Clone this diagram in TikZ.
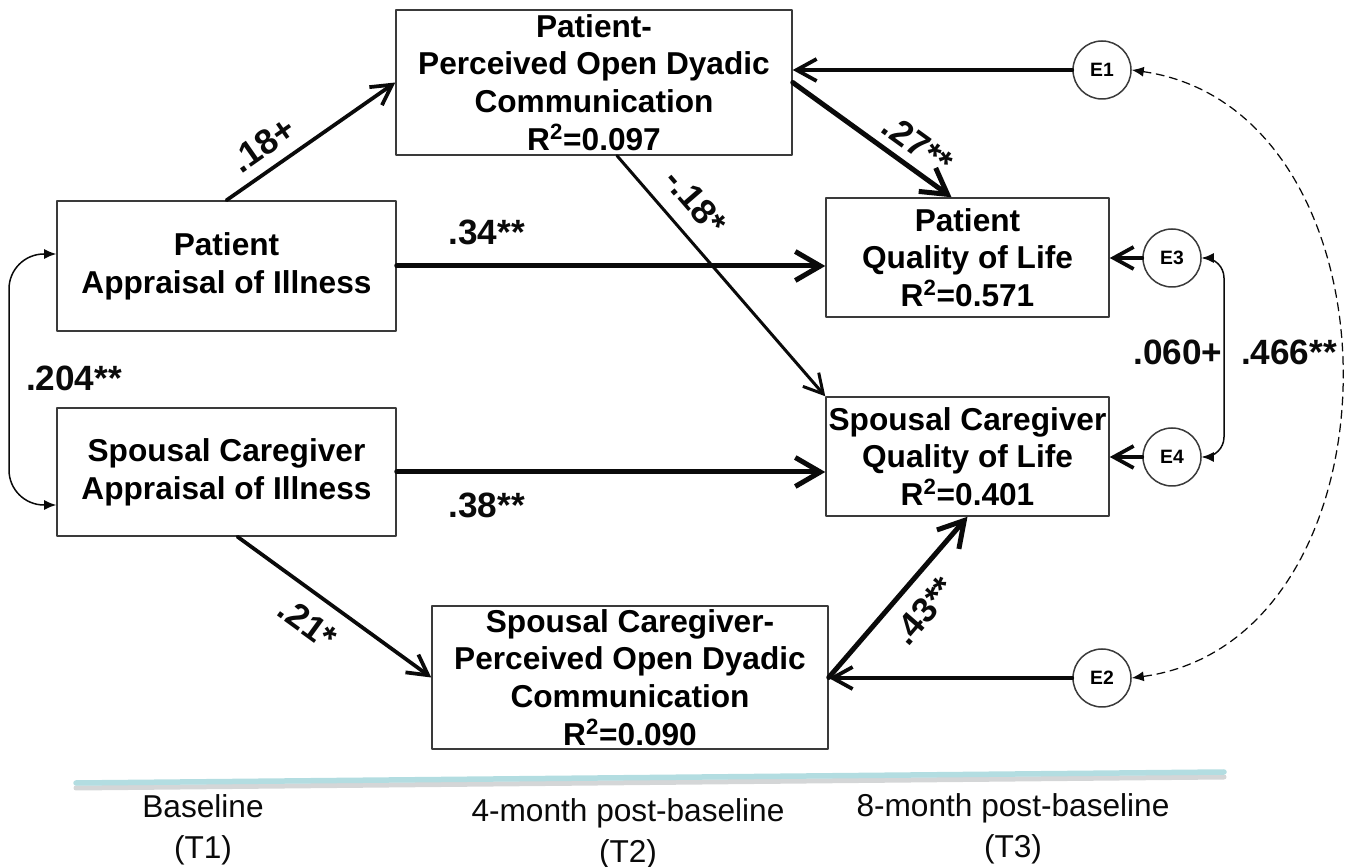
\documentclass[tikz,border=0pt]{standalone}
\usepackage{fontspec}
\setmainfont{Liberation Sans}
\usetikzlibrary{arrows.meta,calc}
\definecolor{ink}{HTML}{0A0A0A}
\definecolor{frame}{HTML}{3A3A3A}
\definecolor{timeline}{HTML}{B3DDE1}
\definecolor{dropshade}{HTML}{D4D6D7}
\newcommand{\boxfont}{\bfseries\fontsize{18}{21.5}\selectfont}
\newcommand{\coeffont}{\bfseries\fontsize{20}{24}\selectfont}
\newcommand{\wavefont}{\fontsize{18}{23.2}\selectfont}
\tikzset{
  varbox/.style={draw=frame,line width=0.3mm,inner sep=0pt,align=center,font=\boxfont},
  errnode/.style={circle,draw=frame,line width=0.3mm,minimum size=11.6mm,inner sep=0pt,font=\bfseries\fontsize{11}{13}\selectfont},
  heavy/.style={draw=ink,line width=1mm,-{Straight Barb[length=5mm,width=5.8mm]}},
  medium/.style={draw=ink,line width=0.75mm,-{Straight Barb[length=4mm,width=4.4mm]}},
  light/.style={draw=ink,line width=0.6mm,-{Straight Barb[length=3.8mm,width=4.2mm]}},
  corr/.style={draw=ink,line width=0.3mm,{Latex[length=2.4mm,width=2mm]}-{Latex[length=2.4mm,width=2mm]}},
  corrdash/.style={corr,line width=0.25mm,dash pattern=on 1.6mm off 1.1mm},
  coef/.style={font=\coeffont,text=ink,inner sep=2pt},
  wave/.style={font=\wavefont,align=center,text=ink,inner sep=0pt}
}

\begin{document}
\begin{tikzpicture}[x=0.2mm,y=0.2mm,line cap=round,line join=round]
  \path[use as bounding box] (0,0) rectangle (1351,867);

  \node[varbox,minimum width=67.8mm,minimum height=26mm] (pa) at (226.5,601) {Patient\\Appraisal of Illness};
  \node[varbox,minimum width=67.8mm,minimum height=25.6mm] (sa) at (226.5,395) {Spousal Caregiver\\Appraisal of Illness};
  \node[varbox,minimum width=79.2mm,minimum height=29mm] (pc) at (594,784.5) {Patient-\\Perceived Open Dyadic\\Communication\\R\textsuperscript{2}=0.097};
  \node[varbox,minimum width=79.2mm,minimum height=28.6mm] (sc) at (630,189.5) {Spousal Caregiver-\\Perceived Open Dyadic\\Communication\\R\textsuperscript{2}=0.090};
  \node[varbox,minimum width=56.6mm,minimum height=23.8mm] (pq) at (967.5,609.5) {Patient\\Quality of Life\\R\textsuperscript{2}=0.571};
  \node[varbox,minimum width=56.6mm,minimum height=23.8mm] (sq) at (967.5,410.5) {Spousal Caregiver\\Quality of Life\\R\textsuperscript{2}=0.401};

  \foreach \n/\x/\y in {1/1102/797,2/1102/189,3/1172/609,4/1172/410}
    \node[errnode] (e\n) at (\x,\y) {E\n};
  \foreach \e/\t in {1/pc,2/sc,3/pq,4/sq}
    \draw[medium] (e\e) -- (e\e -| \t.east);

  \draw[medium] (pa.north) -- node[coef,sloped,above=1.4mm,pos=.3] {.18+} (pc.west);
  \draw[heavy] (pa.east) -- node[coef,above=3mm,pos=.21] {.34**} (pa.east -| pq.west);
  \draw[heavy] (sa.east) -- node[coef,below=3mm,pos=.21] {.38**} (sa.east -| sq.west);
  \draw[heavy] (pc.east) -- node[coef,sloped,above=1mm,pos=.7] {.27**} ($(pq.north)+(-16,0)$);
  \draw[light] ($(pc.south)+(23,0)$) -- node[coef,sloped,above=2.4mm,pos=.27] {-.18*} (sq.north west);
  \draw[medium] ($(sa.south)+(11,0)$) -- node[coef,sloped,below=2.2mm,pos=.45] {.21*} (sc.west);
  \draw[heavy] (sc.east) -- node[coef,sloped,below=2mm,pos=.53] {.43**} (sq.south);

  \draw[corr,rounded corners=7mm] ([yshift=2.4mm]pa.west) -| (9,480) |- ([yshift=-6.6mm]sa.west);
  \node[coef] (r1) at (74,489) {.204**};
  \draw[corr,rounded corners=4mm] (e3.east) -| (1224,510) |- (e4.east);
  \node[coef] (r2) at (1178,515) {.060+};
  \draw[corrdash] (e1.east) .. controls (1410,757) and (1410,227) .. (e2.east);
  \node[coef] (r3) at (1289,515) {.466**};

  \coordinate (tl0) at (76,84);
  \coordinate (tl1) at (1224,95);
  \draw[draw=dropshade,line width=1mm] ($(tl0)+(0,-5)$) -- ($(tl1)+(0,-5)$);
  \draw[draw=timeline,line width=1.1mm] (tl0) -- (tl1);
  \node[wave] (t1) at (203,37) {Baseline\\(T1)};
  \node[wave] (t2) at (628,33) {4-month post-baseline\\(T2)};
  \node[wave] (t3) at (1013,38) {8-month post-baseline\\(T3)};
\end{tikzpicture}
\end{document}
